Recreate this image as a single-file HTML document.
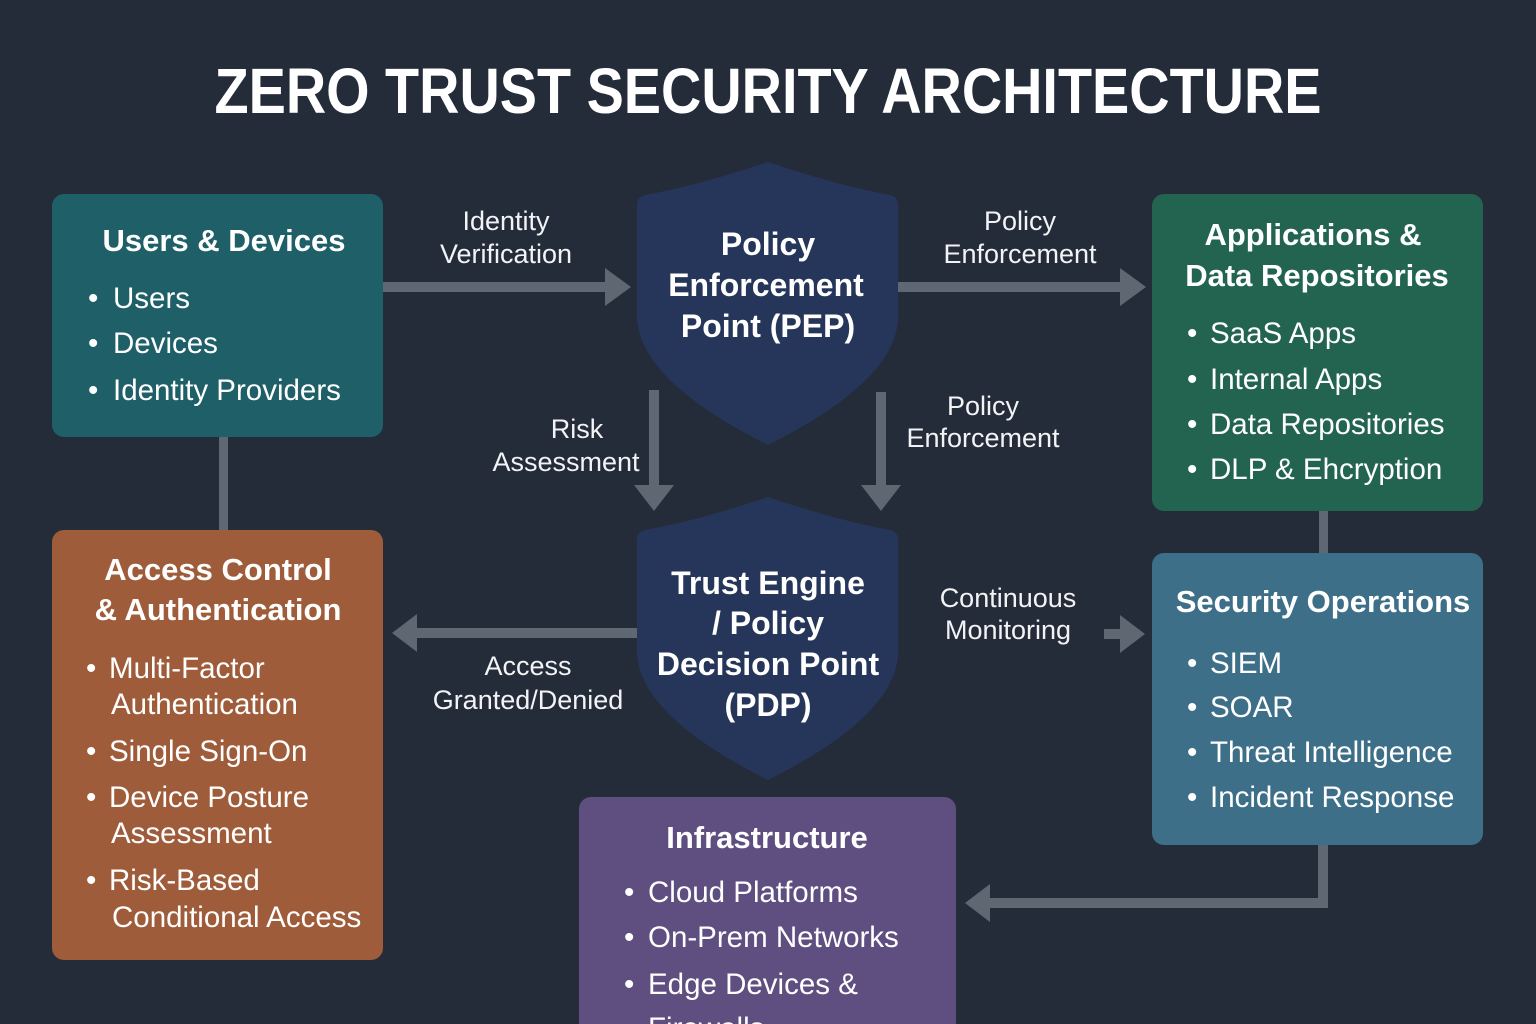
<!DOCTYPE html>
<html><head><meta charset="utf-8"><style>
html,body{margin:0;padding:0;background:#242b39;}
svg{display:block}
text{font-family:"Liberation Sans",sans-serif;fill:#fff}
.t{font-weight:bold;font-size:31px}
.i{font-size:29.5px}
.l{font-size:27px;fill:#f2f3f5}
.h{font-weight:bold;font-size:32px}
</style></head><body>
<svg width="1536" height="1024" viewBox="0 0 1536 1024" xmlns="http://www.w3.org/2000/svg">
<rect width="1536" height="1024" fill="#242b39"/>
<text x="768" y="113" text-anchor="middle" font-weight="bold" font-size="64" textLength="1107" lengthAdjust="spacingAndGlyphs">ZERO TRUST SECURITY ARCHITECTURE</text>

<g fill="#5f6773">
<rect x="383" y="282" width="224" height="10"/><polygon points="605,268 631,287 605,306"/>
<rect x="898" y="282" width="224" height="10"/><polygon points="1120,268 1146,287 1120,306"/>
<rect x="649" y="390" width="10" height="97"/><polygon points="634,485 674,485 654,511"/>
<rect x="876" y="392" width="10" height="95"/><polygon points="861,485 901,485 881,511"/>
<rect x="415" y="628" width="222" height="10"/><polygon points="417,614 392,633 417,652"/>
<rect x="1104" y="629" width="18" height="10"/><polygon points="1120,615 1145,634 1120,653"/>
<rect x="219" y="437" width="9" height="93"/>
<rect x="1319" y="511" width="9" height="42"/>
<rect x="1318" y="845" width="10" height="63"/><rect x="988" y="898" width="340" height="10"/>
<polygon points="990,884 965,903 990,922"/>
</g>

<path d="M768,162 Q700,185 645,195 Q637,197 637,205 L637,320 Q642,382 768,445 Q894,382 898,320 L898,205 Q898,197 890,195 Q836,185 768,162 Z" fill="#26365a"/>
<path d="M768,497 Q700,520 645,530 Q637,532 637,540 L637,655 Q642,717 768,780 Q894,717 898,655 L898,540 Q898,532 890,530 Q836,520 768,497 Z" fill="#26365a"/>
<g text-anchor="middle" class="h">
<text x="768" y="255" class="h">Policy</text>
<text x="766" y="296" class="h">Enforcement</text>
<text x="768" y="337" class="h">Point (PEP)</text>
<text x="768" y="594" class="h">Trust Engine</text>
<text x="768" y="634" class="h">/ Policy</text>
<text x="768" y="675" class="h">Decision Point</text>
<text x="768" y="716" class="h">(PDP)</text>
</g>

<g text-anchor="middle">
<text x="506" y="230" class="l">Identity</text><text x="506" y="263" class="l">Verification</text>
<text x="1020" y="230" class="l">Policy</text><text x="1020" y="263" class="l">Enforcement</text>
<text x="577" y="438" class="l">Risk</text><text x="566" y="471" class="l">Assessment</text>
<text x="983" y="415" class="l">Policy</text><text x="983" y="447" class="l">Enforcement</text>
<text x="528" y="675" class="l">Access</text><text x="528" y="709" class="l">Granted/Denied</text>
<text x="1008" y="607" class="l">Continuous</text><text x="1008" y="639" class="l">Monitoring</text>
</g>

<rect x="52" y="194" width="331" height="243" rx="12" fill="#1f5f68"/>
<text x="224" y="251" text-anchor="middle" class="t">Users &amp; Devices</text>
<g class="i">
<text x="88" y="308">•</text><text x="113" y="308" class="i">Users</text>
<text x="88" y="353">•</text><text x="113" y="353" class="i">Devices</text>
<text x="88" y="400">•</text><text x="113" y="400" class="i">Identity Providers</text>
</g>

<rect x="52" y="530" width="331" height="430" rx="12" fill="#9f5c3a"/>
<text x="218" y="580" text-anchor="middle" class="t">Access Control</text>
<text x="218" y="620" text-anchor="middle" class="t">&amp; Authentication</text>
<g class="i">
<text x="86" y="678">•</text><text x="109" y="678" class="i">Multi-Factor</text>
<text x="111" y="714" class="i">Authentication</text>
<text x="86" y="761">•</text><text x="109" y="761" class="i">Single Sign-On</text>
<text x="86" y="807">•</text><text x="109" y="807" class="i">Device Posture</text>
<text x="111" y="843" class="i">Assessment</text>
<text x="86" y="890">•</text><text x="109" y="890" class="i">Risk-Based</text>
<text x="112" y="927" class="i">Conditional Access</text>
</g>

<rect x="1152" y="194" width="331" height="317" rx="12" fill="#236450"/>
<text x="1313" y="245" text-anchor="middle" class="t">Applications &amp;</text>
<text x="1317" y="286" text-anchor="middle" class="t">Data Repositories</text>
<g class="i">
<text x="1187" y="343">•</text><text x="1210" y="343" class="i">SaaS Apps</text>
<text x="1187" y="389">•</text><text x="1210" y="389" class="i">Internal Apps</text>
<text x="1187" y="434">•</text><text x="1210" y="434" class="i">Data Repositories</text>
<text x="1187" y="479">•</text><text x="1210" y="479" class="i">DLP &amp; Ehcryption</text>
</g>

<rect x="1152" y="553" width="331" height="292" rx="12" fill="#3e6f88"/>
<text x="1323" y="612" text-anchor="middle" class="t">Security Operations</text>
<g class="i">
<text x="1187" y="673">•</text><text x="1210" y="673" class="i">SIEM</text>
<text x="1187" y="717">•</text><text x="1210" y="717" class="i">SOAR</text>
<text x="1187" y="762">•</text><text x="1210" y="762" class="i">Threat Intelligence</text>
<text x="1187" y="807">•</text><text x="1210" y="807" class="i">Incident Response</text>
</g>

<rect x="579" y="797" width="377" height="260" rx="12" fill="#5f4f80"/>
<text x="767" y="848" text-anchor="middle" class="t">Infrastructure</text>
<g class="i">
<text x="624" y="902">•</text><text x="648" y="902" class="i">Cloud Platforms</text>
<text x="624" y="947">•</text><text x="648" y="947" class="i">On-Prem Networks</text>
<text x="624" y="994">•</text><text x="648" y="994" class="i">Edge Devices &amp;</text>
<text x="648" y="1038" class="i">Firewalls</text>
</g>
</svg>
</body></html>
